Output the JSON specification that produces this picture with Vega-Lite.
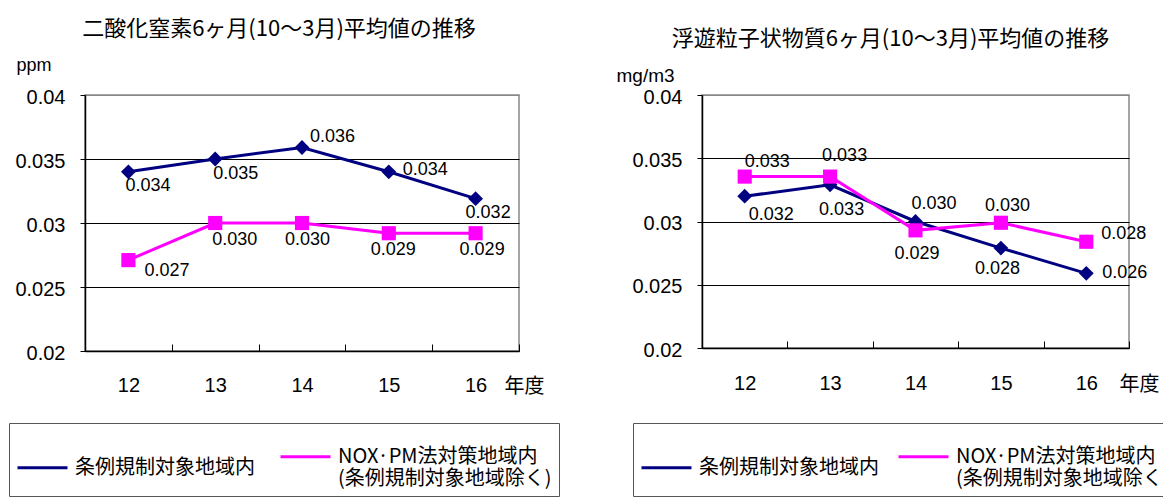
{
  "$schema": "https://vega.github.io/schema/vega-lite/v6.json",
  "autosize": {"type": "pad"},
  "padding": {"left": 7, "top": 17, "right": 0, "bottom": 0},
  "background": "#ffffff",
  "config": {
    "view": {"stroke": "#888888", "strokeWidth": 1.5},
    "font": "Liberation Sans, Noto Sans CJK JP",
    "axis": {"labelColor": "#000", "titleColor": "#000", "domainColor": "#000", "tickColor": "#000", "labelFont": "Liberation Sans, Noto Sans CJK JP", "titleFont": "Liberation Sans, Noto Sans CJK JP", "titleFontWeight": "normal"},
    "title": {"font": "Noto Sans CJK JP", "fontWeight": "normal", "fontSize": 22, "color": "#000"}
  },
  "data": {"values": [
    {"chart": "N", "series": "条例規制対象地域内", "year": "12", "value": 0.034, "label": "0.034"},
    {"chart": "N", "series": "条例規制対象地域内", "year": "13", "value": 0.035, "label": "0.035"},
    {"chart": "N", "series": "条例規制対象地域内", "year": "14", "value": 0.0359, "label": "0.036"},
    {"chart": "N", "series": "条例規制対象地域内", "year": "15", "value": 0.034, "label": "0.034"},
    {"chart": "N", "series": "条例規制対象地域内", "year": "16", "value": 0.0319, "label": "0.032"},
    {"chart": "N", "series": "NOX·PM法対策地域内(条例規制対象地域除く)", "year": "12", "value": 0.0271, "label": "0.027"},
    {"chart": "N", "series": "NOX·PM法対策地域内(条例規制対象地域除く)", "year": "13", "value": 0.030, "label": "0.030"},
    {"chart": "N", "series": "NOX·PM法対策地域内(条例規制対象地域除く)", "year": "14", "value": 0.030, "label": "0.030"},
    {"chart": "N", "series": "NOX·PM法対策地域内(条例規制対象地域除く)", "year": "15", "value": 0.0292, "label": "0.029"},
    {"chart": "N", "series": "NOX·PM法対策地域内(条例規制対象地域除く)", "year": "16", "value": 0.0292, "label": "0.029"},
    {"chart": "P", "series": "条例規制対象地域内", "year": "12", "value": 0.0320, "label": "0.032"},
    {"chart": "P", "series": "条例規制対象地域内", "year": "13", "value": 0.0329, "label": "0.033"},
    {"chart": "P", "series": "条例規制対象地域内", "year": "14", "value": 0.0300, "label": "0.030"},
    {"chart": "P", "series": "条例規制対象地域内", "year": "15", "value": 0.0279, "label": "0.028"},
    {"chart": "P", "series": "条例規制対象地域内", "year": "16", "value": 0.0259, "label": "0.026"},
    {"chart": "P", "series": "NOX·PM法対策地域内(条例規制対象地域除く)", "year": "12", "value": 0.03355, "label": "0.033"},
    {"chart": "P", "series": "NOX·PM法対策地域内(条例規制対象地域除く)", "year": "13", "value": 0.03355, "label": "0.033"},
    {"chart": "P", "series": "NOX·PM法対策地域内(条例規制対象地域除く)", "year": "14", "value": 0.0293, "label": "0.029"},
    {"chart": "P", "series": "NOX·PM法対策地域内(条例規制対象地域除く)", "year": "15", "value": 0.0299, "label": "0.030"},
    {"chart": "P", "series": "NOX·PM法対策地域内(条例規制対象地域除く)", "year": "16", "value": 0.0284, "label": "0.028"}
  ]},
  "spacing": 183,
  "bounds": "flush",
  "resolve": {"scale": {"color": "independent", "y": "independent", "x": "independent"}, "legend": {"color": "independent"}},
  "hconcat": [
    {
      "width": 434,
      "height": 256,
      "title": {"text": "二酸化窒素6ヶ月(10～3月)平均値の推移", "dx": -23, "offset": 15},
      "transform": [{"filter": "datum.chart == 'N'"}],
      "encoding": {
        "x": {"field": "year", "type": "ordinal", "scale": {"type": "band", "paddingInner": 0, "paddingOuter": 0},
          "axis": {"title": "年度", "titleX": 419, "titleY": 35, "titleAlign": "left", "titleBaseline": "middle", "titleFontSize": 20, "titleFont": "Noto Sans CJK JP", "labelAngle": 0, "labelFontSize": 20, "tickBand": "extent", "tickSize": -7, "labelPadding": 31, "domainWidth": 1.5, "grid": false}},
        "y": {"field": "value", "type": "quantitative", "scale": {"domain": [0.02, 0.04], "nice": false, "zero": false},
          "axis": {"values": [0.02, 0.025, 0.03, 0.035, 0.04], "format": "~g", "title": "ppm", "titleAngle": 0, "titleX": -69, "titleY": -30, "titleAlign": "left", "titleBaseline": "middle", "titleFontSize": 18, "labelFontSize": 20, "tickSize": 5, "labelPadding": 15, "labelOffset": 2, "domainWidth": 1.5, "grid": true, "gridColor": {"condition": {"test": "datum.value >= 0.04", "value": "#888888"}, "value": "#000000"}, "gridWidth": 1}},
        "color": {"field": "series", "type": "nominal",
          "scale": {"domain": ["条例規制対象地域内", "NOX·PM法対策地域内(条例規制対象地域除く)"], "range": ["#000080", "#ff00ff"]},
          "legend": {"orient": "none", "legendX": -76, "legendY": 328, "direction": "horizontal", "title": null, "strokeColor": "#555555", "padding": 7, "symbolType": "M-1,0H1", "symbolSize": 2500, "symbolStrokeWidth": 3, "labelOffset": 6, "columnPadding": 19, "labelFontSize": 20, "labelFont": "Noto Sans CJK JP", "labelLimit": 400, "labelColor": "#000",
            "labelExpr": "indexof(datum.label, 'NOX') >= 0 ? ['NOX·PM法対策地域内', '(条例規制対象地域除く)'] : datum.label"}}
      },
      "layer": [
        {"mark": {"type": "line", "strokeWidth": 3}},
        {"transform": [{"filter": "indexof(datum.series, 'NOX') < 0"}],
          "mark": {"type": "point", "shape": "diamond", "filled": true, "opacity": 1, "size": 220},
          "encoding": {"color": {"value": "#000080"}}},
        {"transform": [{"filter": "indexof(datum.series, 'NOX') >= 0"}],
          "mark": {"type": "point", "shape": "square", "filled": true, "opacity": 1, "size": 200},
          "encoding": {"color": {"value": "#ff00ff"}}},
        {"mark": {"type": "text", "align": "left", "baseline": "middle", "fontSize": 18, "font": "Liberation Sans",
            "dx": {"expr": "{'A12': -3, 'A13': -2, 'A14': 8, 'A15': 14, 'A16': -10, 'B12': 16, 'B13': -3, 'B14': -17, 'B15': -18, 'B16': -16}[(indexof(datum.series, 'NOX') >= 0 ? 'B' : 'A') + datum.year]"},
            "dy": {"expr": "{'A12': 14, 'A13': 15, 'A14': -10, 'A15': -2, 'A16': 14, 'B12': 11, 'B13': 17, 'B14': 17, 'B15': 17, 'B16': 17}[(indexof(datum.series, 'NOX') >= 0 ? 'B' : 'A') + datum.year]"}},
          "encoding": {"text": {"field": "label", "type": "nominal"}, "color": {"value": "#000000"}}}
      ]
    },
    {
      "width": 427,
      "height": 253,
      "title": {"text": "浮遊粒子状物質6ヶ月(10～3月)平均値の推移", "dx": -25, "offset": 15},
      "transform": [{"filter": "datum.chart == 'P'"}],
      "encoding": {
        "x": {"field": "year", "type": "ordinal", "scale": {"type": "band", "paddingInner": 0, "paddingOuter": 0},
          "axis": {"title": "年度", "titleX": 417, "titleY": 36, "titleAlign": "left", "titleBaseline": "middle", "titleFontSize": 20, "titleFont": "Noto Sans CJK JP", "labelAngle": 0, "labelFontSize": 20, "tickBand": "extent", "tickSize": -7, "labelPadding": 32, "domainWidth": 1.5, "grid": false}},
        "y": {"field": "value", "type": "quantitative", "scale": {"domain": [0.02, 0.04], "nice": false, "zero": false},
          "axis": {"values": [0.02, 0.025, 0.03, 0.035, 0.04], "format": "~g", "title": "mg/m3", "titleAngle": 0, "titleX": -86, "titleY": -20, "titleAlign": "left", "titleBaseline": "middle", "titleFontSize": 19, "labelFontSize": 20, "tickSize": 5, "labelPadding": 15, "labelOffset": 2, "domainWidth": 1.5, "grid": true, "gridColor": {"condition": {"test": "datum.value >= 0.04", "value": "#888888"}, "value": "#000000"}, "gridWidth": 1}},
        "color": {"field": "series", "type": "nominal",
          "scale": {"domain": ["条例規制対象地域内", "NOX·PM法対策地域内(条例規制対象地域除く)"], "range": ["#000080", "#ff00ff"]},
          "legend": {"orient": "none", "legendX": -69, "legendY": 328, "direction": "horizontal", "title": null, "strokeColor": "#555555", "padding": 7, "symbolType": "M-1,0H1", "symbolSize": 2500, "symbolStrokeWidth": 3, "labelOffset": 6, "columnPadding": 13, "labelFontSize": 20, "labelFont": "Noto Sans CJK JP", "labelLimit": 400, "labelColor": "#000",
            "labelExpr": "indexof(datum.label, 'NOX') >= 0 ? ['NOX·PM法対策地域内', '(条例規制対象地域除く)'] : datum.label"}}
      },
      "layer": [
        {"mark": {"type": "line", "strokeWidth": 3}},
        {"transform": [{"filter": "indexof(datum.series, 'NOX') < 0"}],
          "mark": {"type": "point", "shape": "diamond", "filled": true, "opacity": 1, "size": 220},
          "encoding": {"color": {"value": "#000080"}}},
        {"transform": [{"filter": "indexof(datum.series, 'NOX') >= 0"}],
          "mark": {"type": "point", "shape": "square", "filled": true, "opacity": 1, "size": 200},
          "encoding": {"color": {"value": "#ff00ff"}}},
        {"mark": {"type": "text", "align": "left", "baseline": "middle", "fontSize": 18, "font": "Liberation Sans",
            "dx": {"expr": "{'A12': 4, 'A13': -11, 'A14': -4, 'A15': -26, 'A16': 16, 'B12': 0, 'B13': -8, 'B14': -21, 'B15': -16, 'B16': 15}[(indexof(datum.series, 'NOX') >= 0 ? 'B' : 'A') + datum.year]"},
            "dy": {"expr": "{'A12': 19, 'A13': 25, 'A14': -18, 'A15': 21, 'A16': 0, 'B12': -15, 'B13': -21, 'B14': 24, 'B15': -17, 'B16': -8}[(indexof(datum.series, 'NOX') >= 0 ? 'B' : 'A') + datum.year]"}},
          "encoding": {"text": {"field": "label", "type": "nominal"}, "color": {"value": "#000000"}}}
      ]
    }
  ]
}
